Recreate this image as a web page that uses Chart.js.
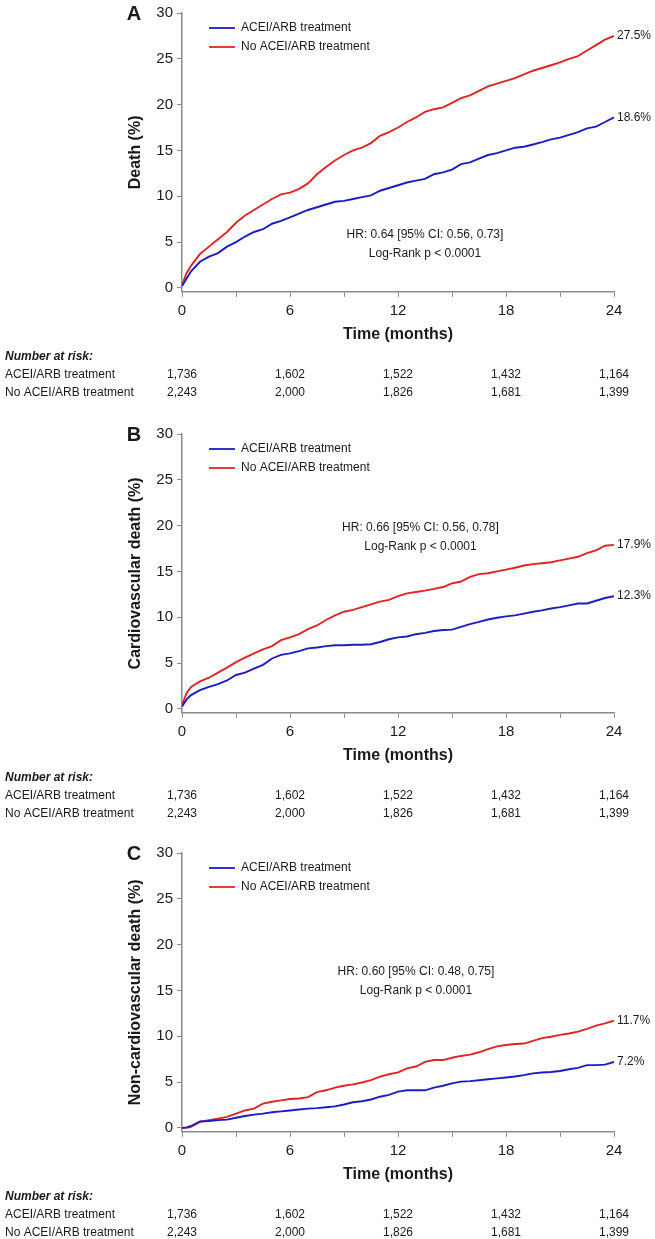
<!DOCTYPE html>
<html lang="en">
<head>
<meta charset="utf-8">
<title>ACEI/ARB treatment and death</title>
<script src="https://cdn.jsdelivr.net/npm/chart.js@4.4.1/dist/chart.umd.min.js"></script>
<style>
  html, body { margin: 0; padding: 0; background: #fff; overflow: hidden; }
  .panel { position: absolute; left: 0; width: 655px; height: 420px; }
</style>
</head>
<body>
<div class="panel" style="top:0"><canvas id="panelA" width="655" height="420"></canvas></div>
<div class="panel" style="top:421px"><canvas id="panelB" width="655" height="420"></canvas></div>
<div class="panel" style="top:840px"><canvas id="panelC" width="655" height="420"></canvas></div>

<script>
// time grid (months) for all curves
const months = [0, 0.25, 0.5, 1, 1.5, 2, 2.5, 3, 3.5, 4, 4.5, 5, 5.5, 6, 6.5, 7, 7.5, 8, 8.5, 9, 9.5,
    10, 10.5, 11, 11.5, 12, 12.5, 13, 13.5, 14, 14.5, 15, 15.5, 16, 16.5, 17, 17.5, 18, 18.5, 19, 19.5,
    20, 20.5, 21, 21.5, 22, 22.5, 23, 23.5, 24];

const timeTicks = [0, 3, 6, 9, 12, 15, 18, 21, 24];
const yTicks = [0, 5, 10, 15, 20, 25, 30];
const seriesNames = ["ACEI/ARB treatment", "No ACEI/ARB treatment"];

// A: death (%)
const deathAcei = [0.2, 1.0, 1.8, 2.85, 3.4, 3.8, 4.5, 5.0, 5.6, 6.1, 6.4, 7.0, 7.3, 7.7, 8.1, 8.5, 8.8, 9.1, 9.4, 9.5, 9.7,
    9.9, 10.1, 10.6, 10.9, 11.2, 11.5, 11.7, 11.9, 12.4, 12.6, 12.9, 13.5, 13.7, 14.1, 14.5, 14.7, 15.0, 15.3, 15.4, 15.65,
    15.9, 16.2, 16.4, 16.7, 17.0, 17.4, 17.6, 18.1, 18.6];
const deathNoAcei = [0.3, 1.6, 2.4, 3.7, 4.5, 5.3, 6.1, 7.1, 7.9, 8.5, 9.1, 9.7, 10.2, 10.4, 10.8, 11.4, 12.4, 13.2, 13.9, 14.5, 15.0,
    15.3, 15.8, 16.6, 17.0, 17.5, 18.1, 18.6, 19.2, 19.5, 19.7, 20.2, 20.7, 21.0, 21.5, 22.0, 22.3, 22.6, 22.9, 23.3, 23.7,
    24.0, 24.3, 24.6, 25.0, 25.3, 25.9, 26.5, 27.1, 27.5];

// B: cardiovascular death (%)
const cvAcei = [0.25, 1.0, 1.5, 2.05, 2.4, 2.7, 3.1, 3.7, 3.95, 4.4, 4.8, 5.5, 5.9, 6.05, 6.3, 6.6, 6.7, 6.85, 6.95, 6.95, 7.0,
    7.0, 7.05, 7.3, 7.6, 7.8, 7.9, 8.15, 8.3, 8.5, 8.6, 8.65, 8.95, 9.25, 9.5, 9.75, 9.95, 10.1, 10.2, 10.4, 10.6,
    10.75, 10.95, 11.1, 11.3, 11.5, 11.5, 11.8, 12.1, 12.3];
const cvNoAcei = [0.4, 1.7, 2.4, 3.0, 3.4, 3.95, 4.5, 5.1, 5.6, 6.05, 6.5, 6.85, 7.5, 7.8, 8.15, 8.7, 9.1, 9.7, 10.2, 10.6, 10.8,
    11.1, 11.4, 11.7, 11.9, 12.3, 12.6, 12.75, 12.9, 13.1, 13.3, 13.7, 13.9, 14.4, 14.7, 14.8, 15.0, 15.2, 15.4, 15.65, 15.8,
    15.9, 16.0, 16.2, 16.4, 16.6, 17.0, 17.3, 17.8, 17.9];

// C: non-cardiovascular death (%)
const noncvAcei = [0, 0.05, 0.2, 0.7, 0.75, 0.85, 0.9, 1.1, 1.3, 1.45, 1.55, 1.7, 1.8, 1.9, 2.0, 2.1, 2.15, 2.25, 2.35, 2.55, 2.8,
    2.9, 3.1, 3.4, 3.6, 3.95, 4.1, 4.1, 4.1, 4.4, 4.6, 4.85, 5.05, 5.1, 5.2, 5.3, 5.4, 5.5, 5.6, 5.75, 5.95,
    6.05, 6.1, 6.2, 6.4, 6.55, 6.85, 6.85, 6.9, 7.2];
const noncvNoAcei = [0, 0, 0.1, 0.65, 0.85, 1.0, 1.2, 1.55, 1.9, 2.1, 2.65, 2.85, 3.0, 3.15, 3.2, 3.35, 3.9, 4.1, 4.4, 4.6, 4.75,
    4.95, 5.2, 5.6, 5.85, 6.05, 6.5, 6.7, 7.2, 7.4, 7.4, 7.65, 7.85, 8.0, 8.25, 8.6, 8.9, 9.05, 9.15, 9.2, 9.5,
    9.8, 9.95, 10.15, 10.3, 10.5, 10.8, 11.15, 11.4, 11.7];

// number at risk
const riskTimes = [0, 6, 12, 18, 24];
const riskAcei = ["1,736", "1,602", "1,522", "1,432", "1,164"];
const riskNoAcei = ["2,243", "2,000", "1,826", "1,681", "1,399"];

const FONT = "'Liberation Sans', Arial, Helvetica, sans-serif";
const BLUE = "#1c1cc6";
const RED = "#e02424";
const AXIS = "#8a8a8a";
const TEXT = "#1a1a1a";

Chart.defaults.font.family = FONT;

const kmExtras = {
    id: "kmExtras",
    afterDraw(chart, args, opts) {
        const ctx = chart.ctx;
        const {left, top, bottom} = chart.chartArea;
        const xs = chart.scales.x, ys = chart.scales.y;
        ctx.save();
        ctx.fillStyle = TEXT;
        ctx.textBaseline = "middle";

        // panel letter
        ctx.font = "bold 20px " + FONT;
        ctx.textAlign = "center";
        ctx.fillText(opts.letter, 134, top + 1);

        // legend
        ctx.font = "12px " + FONT;
        ctx.textAlign = "left";
        chart.data.datasets.forEach((ds, i) => {
            const ly = top + 15 + i * 19;
            ctx.strokeStyle = ds.borderColor;
            ctx.lineWidth = 1.8;
            ctx.beginPath();
            ctx.moveTo(left + 27, ly);
            ctx.lineTo(left + 53, ly);
            ctx.stroke();
            ctx.fillText(ds.label, left + 59, ly);
        });

        // end labels
        chart.data.datasets.forEach(ds => {
            const last = ds.data[ds.data.length - 1];
            ctx.fillText(last.y.toFixed(1) + "%", xs.getPixelForValue(last.x) + 3, ys.getPixelForValue(last.y));
        });

        // HR / log-rank
        ctx.textAlign = "center";
        const hx = xs.getPixelForValue(opts.hrAt[0]);
        const hy = ys.getPixelForValue(opts.hrAt[1]);
        ctx.fillText(opts.hr, hx, hy);
        ctx.fillText("Log-Rank p < 0.0001", hx, hy + 19);

        // number at risk table
        ctx.textAlign = "left";
        ctx.font = "italic bold 12px " + FONT;
        ctx.fillText("Number at risk:", 5, bottom + 65);
        ctx.font = "12px " + FONT;
        ctx.fillText(seriesNames[0], 5, bottom + 83);
        ctx.fillText(seriesNames[1], 5, bottom + 101);
        ctx.textAlign = "center";
        riskTimes.forEach((t, i) => {
            const px = xs.getPixelForValue(t);
            ctx.fillText(riskAcei[i], px, bottom + 83);
            ctx.fillText(riskNoAcei[i], px, bottom + 101);
        });
        ctx.restore();
    }
};

function toPoints(values) {
    return months.map((m, i) => ({x: m, y: values[i]}));
}

function drawPanel(canvasId, letter, yTitle, acei, noAcei, hr, hrAt) {
    new Chart(document.getElementById(canvasId), {
        type: "line",
        data: {
            datasets: [
                {label: seriesNames[0], data: toPoints(acei), borderColor: BLUE, borderWidth: 1.9, pointRadius: 0, tension: 0},
                {label: seriesNames[1], data: toPoints(noAcei), borderColor: RED, borderWidth: 1.9, pointRadius: 0, tension: 0}
            ]
        },
        options: {
            responsive: false,
            animation: false,
            layout: {padding: {left: 126, top: 12, right: 41, bottom: 74}},
            plugins: {
                legend: {display: false},
                tooltip: {enabled: false},
                kmExtras: {letter: letter, hr: hr, hrAt: hrAt}
            },
            scales: {
                x: {
                    type: "linear",
                    min: 0,
                    max: 24,
                    afterBuildTicks: s => { s.ticks = timeTicks.map(v => ({value: v})); },
                    ticks: {
                        callback: v => (v % 6 === 0 ? v : ""),
                        autoSkip: false,
                        maxRotation: 0,
                        color: TEXT,
                        font: {size: 15},
                        padding: 5
                    },
                    grid: {display: true, drawOnChartArea: false, drawTicks: true, tickLength: 5, color: AXIS},
                    border: {display: true, color: AXIS, width: 1.5},
                    title: {display: true, text: "Time (months)", color: TEXT, font: {size: 16, weight: "bold"}, padding: {top: 0, bottom: 2}}
                },
                y: {
                    min: -0.43,
                    max: 30,
                    afterBuildTicks: s => { s.ticks = yTicks.map(v => ({value: v})); },
                    afterFit: s => { s.width = 56; },
                    ticks: {color: TEXT, font: {size: 15}, padding: 4},
                    grid: {display: true, drawOnChartArea: false, drawTicks: true, tickLength: 5, color: AXIS},
                    border: {display: true, color: AXIS, width: 1.5},
                    title: {display: true, text: yTitle, color: TEXT, font: {size: 16, weight: "bold"}, padding: {top: 0, bottom: 0}}
                }
            }
        },
        plugins: [kmExtras]
    });
}

drawPanel("panelA", "A", "Death (%)", deathAcei, deathNoAcei, "HR: 0.64 [95% CI: 0.56, 0.73]", [13.5, 5.8]);
drawPanel("panelB", "B", "Cardiovascular death (%)", cvAcei, cvNoAcei, "HR: 0.66 [95% CI: 0.56, 0.78]", [13.25, 19.8]);
drawPanel("panelC", "C", "Non-cardiovascular death (%)", noncvAcei, noncvNoAcei, "HR: 0.60 [95% CI: 0.48, 0.75]", [13.0, 17.0]);
</script>
</body>
</html>
